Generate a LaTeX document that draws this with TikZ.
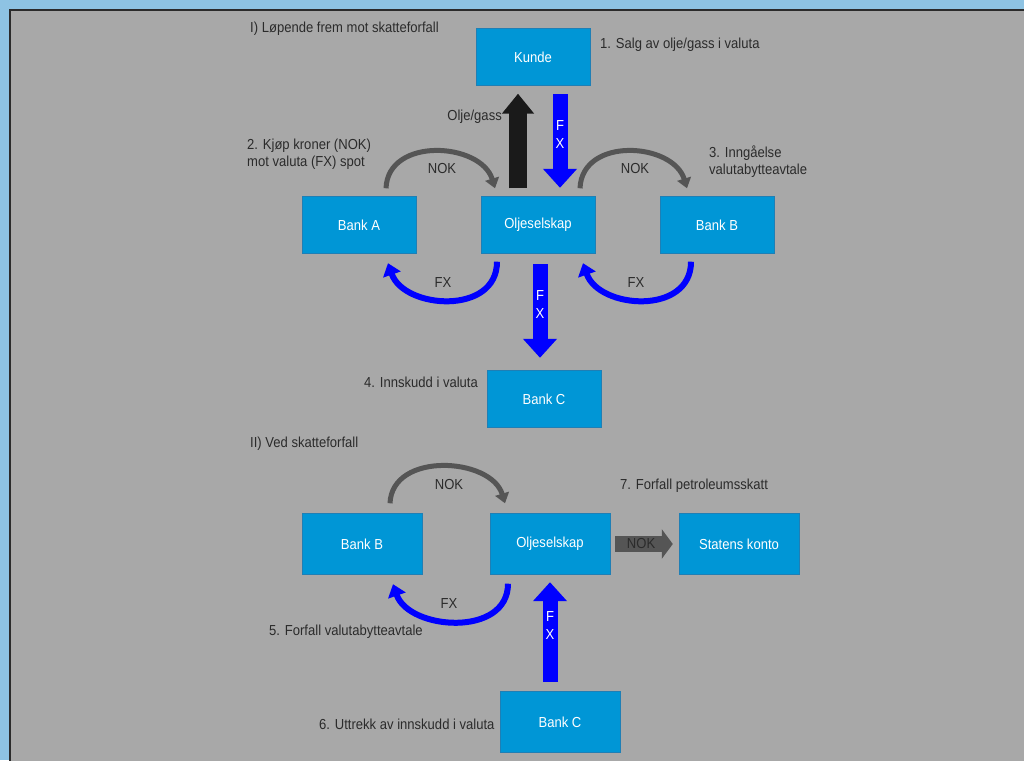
\documentclass[tikz,border=0pt]{standalone}
\usepackage{fontspec}
\setmainfont{Liberation Sans}[FakeStretch=0.9]
\usetikzlibrary{arrows.meta}
\definecolor{skyframe}{HTML}{8EC3E3}
\definecolor{panelgrey}{HTML}{A8A8A8}
\definecolor{boxblue}{HTML}{0096D6}
\definecolor{boxedge}{HTML}{1F7FB5}
\definecolor{txtdark}{HTML}{2B2B2B}
\definecolor{nokgrey}{HTML}{555555}
\definecolor{oilblack}{HTML}{1A1A1A}
\tikzset{
  box/.style={draw=boxedge,fill=boxblue,text=white,minimum width=114pt,minimum height=57pt,inner sep=0pt},
  bigbox/.style={box,minimum width=120pt,minimum height=61pt},
  lbl/.style={text=txtdark,align=left,anchor=west,inner sep=0pt},
  tag/.style={text=txtdark,inner sep=0pt},
  nokarc/.style={draw=nokgrey,line width=5pt,-{Triangle[width=14pt,length=10pt]}},
  fxarc/.style={draw=blue,line width=6pt,-{Triangle[width=18pt,length=12pt]}},
  fxbar/.style={draw=blue,line width=15pt,-{Triangle[width=33pt,length=19pt]}},
  oilbar/.style={draw=oilblack,line width=18pt,-{Triangle[width=31pt,length=20pt]}},
  nokbar/.style={draw=nokgrey,line width=16pt,-{Triangle[width=29pt,length=11pt]}},
  fxtext/.style={text=white,align=center,inner sep=0pt,font=\fontsize{14.5}{18}\selectfont}
}
\begin{document}
\begin{tikzpicture}[x=1pt,y=1pt,font=\fontsize{14.5}{17}\selectfont]
    \useasboundingbox (0,0) rectangle (1024,760);
    \fill[skyframe] (0,0) rectangle (1024,760);
    \fill[panelgrey] (10,-5) rectangle (1030,750);
    \draw[txtdark,line width=1.2pt] (10,-5) -- (10,750) -- (1030,750);
    % I) underveis
    \node[lbl] (titleI) at (250,731) {I) Løpende frem mot skatteforfall};
    \node[box] (kunde) at (533,703) {Kunde};
    \node[box] (bankA) at (359,535) {Bank A};
    \node[box] (olje1) at (538,535) {Oljeselskap};
    \node[box] (bankB1) at (717,535) {Bank B};
    \node[box] (bankC1) at (544,361) {Bank C};
    \node[lbl] (step1) at (600,715) {1. Salg av olje/gass i valuta};
    \node[lbl] (step2) at (247,605.5) {2. Kjøp kroner (NOK)\\mot valuta (FX) spot};
    \node[lbl] (step3) at (709,598.5) {3. Inngåelse\\valutabytteavtale};
    \node[lbl] (step4) at (364,378) {4. Innskudd i valuta};
    \draw[oilbar] ([shift={(-20pt,8pt)}]olje1.north) -- ([shift={(-15pt,-8pt)}]kunde.south);
    \node[tag,anchor=east] (oil) at (502,643) {Olje/gass};
    \draw[fxbar] ([shift={(27pt,-8.5pt)}]kunde.south) -- ([shift={(22pt,8.5pt)}]olje1.north)
        node[fxtext,pos=0.43] {F\\X};
    \draw[fxbar] ([shift={(2pt,-10.5pt)}]olje1.south) -- ([shift={(-4pt,12.5pt)}]bankC1.north)
        node[fxtext,pos=0.43] {F\\X};
    \draw[nokarc] ([shift={(27pt,8pt)}]bankA.north) .. controls +(2,52) and +(-14,46) .. ([shift={(-43pt,8pt)}]olje1.north);
    \draw[nokarc] ([shift={(42pt,8pt)}]olje1.north) .. controls +(2,52) and +(-14,46) .. ([shift={(-30pt,8pt)}]bankB1.north);
    \draw[fxarc] ([shift={(-41pt,-8pt)}]olje1.south) .. controls +(0,-54) and +(16,-46) .. ([shift={(29pt,-9.5pt)}]bankA.south);
    \draw[fxarc] ([shift={(-26pt,-8pt)}]bankB1.south) .. controls +(0,-54) and +(16,-46) .. ([shift={(45pt,-9.5pt)}]olje1.south);
    \node[tag] (nok1) at (442,591) {NOK};
    \node[tag] (nok2) at (635,591) {NOK};
    \node[tag] (fx1) at (443,477) {FX};
    \node[tag] (fx2) at (636,477) {FX};
    % II) ved forfall
    \node[lbl] (titleII) at (250,316) {II) Ved skatteforfall};
    \node[bigbox] (bankB2) at (362,216) {Bank B};
    \node[bigbox] (olje2) at (550,216) {Oljeselskap};
    \node[bigbox] (statens) at (739,216) {Statens konto};
    \node[bigbox] (bankC2) at (560,38) {Bank C};
    \node[lbl] (step7) at (620,274) {7. Forfall petroleumsskatt};
    \node[lbl] (step5) at (269,128) {5. Forfall valutabytteavtale};
    \node[lbl] (step6) at (319,36) {6. Uttrekk av innskudd i valuta};
    \draw[nokarc] ([shift={(28pt,10pt)}]bankB2.north) .. controls +(2,52) and +(-14,46) .. ([shift={(-45pt,10pt)}]olje2.north);
    \draw[fxarc] ([shift={(-42pt,-9pt)}]olje2.south) .. controls +(0,-54) and +(16,-46) .. ([shift={(31pt,-9.5pt)}]bankB2.south);
    \node[tag] (nok3) at (449,275) {NOK};
    \node[tag] (fx3) at (449,156) {FX};
    \draw[fxbar] ([shift={(-10pt,9.5pt)}]bankC2.north) -- ([shift={(0pt,-7.5pt)}]olje2.south)
        node[fxtext,pos=0.57] {F\\X};
    \draw[nokbar] ([xshift=5pt]olje2.east) -- ([xshift=-6pt]statens.west)
        node[tag,pos=0.45] {NOK};
\end{tikzpicture}
\end{document}
